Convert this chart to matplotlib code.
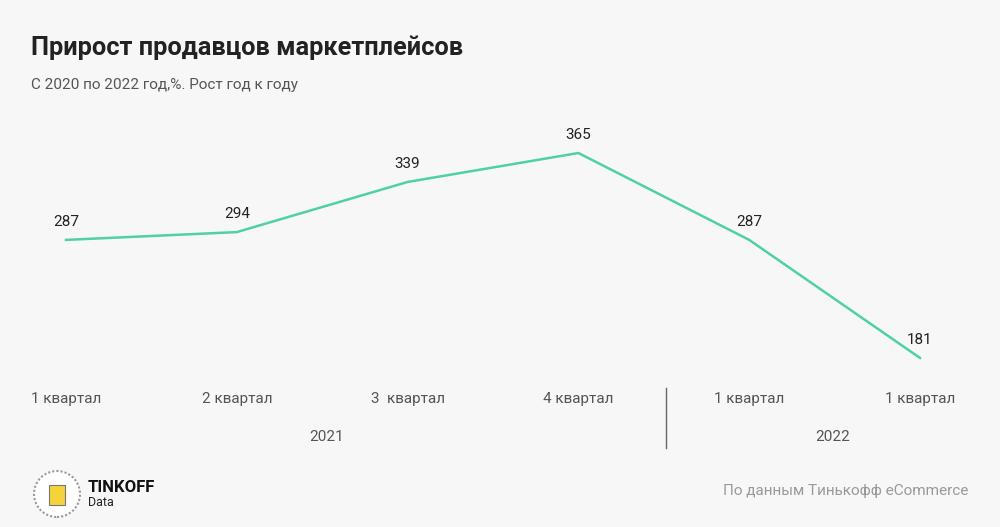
import matplotlib
matplotlib.use("Agg")
import matplotlib.pyplot as plt
from matplotlib.patches import Ellipse, Rectangle

categories = ["1 квартал", "2 квартал", "3  квартал", "4 квартал", "1 квартал", "1 квартал"]
values = [287, 294, 339, 365, 287, 181]
years = ["2021", "2022"]

W, H = 1000, 527
fig = plt.figure(figsize=(W/100, H/100), dpi=100)
bg = "#f7f7f7"
fig.patch.set_facecolor(bg)
ax = fig.add_axes([0, 0, 1, 1])
ax.set_facecolor(bg)
step = 170.8
ax.set_xlim(-66/step, (W-66)/step)
ppu = 1.114
ax.set_ylim(365 - (H-153)/ppu, 365 + 153/ppu)
ax.axis("off")
xs = list(range(len(values)))
ax.plot(xs, values, color="#4fd1a5", lw=1.8)
for x, v in zip(xs, values):
    ax.annotate(str(v), (x, v), xytext=(0, 8), textcoords="offset points",
                ha="center", va="bottom", fontsize=11, color="#222222", family="Roboto")

def fx(px): return px/W
def fy(py): return 1-py/H

for x, c in zip(xs, categories):
    fig.text(fx(66+x*step), fy(399), c, ha="center", va="center", fontsize=11, color="#555555", family="Roboto")
fig.text(fx(327), fy(437), years[0], ha="center", va="center", fontsize=11, color="#555555", family="Roboto")
fig.text(fx(833), fy(437), years[1], ha="center", va="center", fontsize=11, color="#555555", family="Roboto")
fig.add_artist(plt.Line2D([fx(666), fx(666)], [fy(388), fy(448)], color="#666666", lw=1))

fig.text(fx(31), fy(48), "Прирост продавцов маркетплейсов", ha="left", va="center",
         fontsize=18.3, fontweight="bold", color="#222222", family="Roboto")
fig.text(fx(31), fy(85), "С 2020 по 2022 год,%. Рост год к году", ha="left", va="center",
         fontsize=11, color="#555555", family="Roboto")
fig.text(fx(968), fy(491), "По данным Тинькофф eCommerce", ha="right", va="center",
         fontsize=11, color="#999999", family="Roboto")
fig.text(fx(88), fy(487), "TINKOFF", ha="left", va="center", fontsize=12, fontweight="bold", color="#111111", family="Roboto")
fig.text(fx(88), fy(503), "Data", ha="left", va="center", fontsize=9, color="#222222", family="Roboto")
# logo emblem
fig.add_artist(Ellipse((fx(57), fy(494)), 46/W, 46/H, transform=fig.transFigure,
               facecolor="white", edgecolor="#999999", lw=1.5, ls=(0, (1, 1))))
fig.add_artist(Rectangle((fx(49), fy(505)), 16/W, 20/H, transform=fig.transFigure,
               facecolor="#f5d33b", edgecolor="#777777", lw=0.8))
fig.savefig("out.png", dpi=100, facecolor=bg)
